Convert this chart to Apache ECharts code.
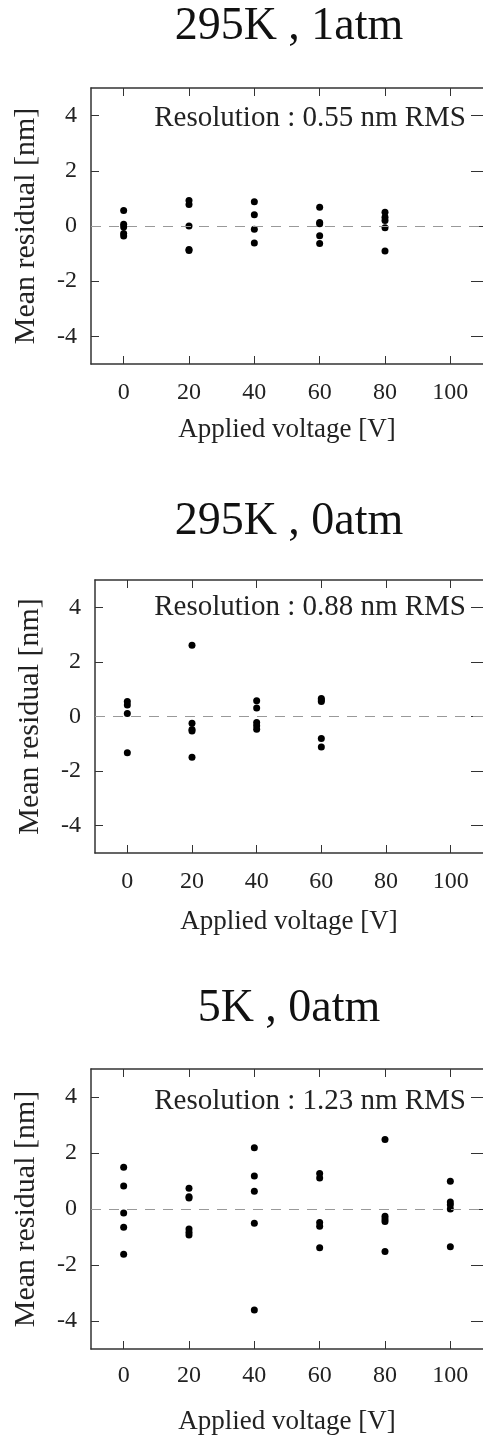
<!DOCTYPE html>
<html>
<head>
<meta charset="utf-8">
<script src="https://cdn.jsdelivr.net/npm/echarts@6/dist/echarts.min.js"></script>
<style>html,body{margin:0;padding:0;background:#fff;}#c{width:483px;height:1439px;}</style>
</head>
<body>
<div id="c"></div>
<script>
// ---- data ----
const panelTitles = ['295K , 1atm', '295K , 0atm', '5K , 0atm'];
const resolutionLabels = ['Resolution : 0.55 nm RMS', 'Resolution : 0.88 nm RMS', 'Resolution : 1.23 nm RMS'];
const xTickValues = [0, 20, 40, 60, 80, 100];
const yTickValues = [-4, -2, 0, 2, 4];
const xAxisTitle = 'Applied voltage [V]';
const yAxisTitle = 'Mean residual [nm]';

// [voltage, mean residual]
const residuals295K1atm = [
  [0, 0.56], [0, 0.06], [0, -0.04], [0, -0.27], [0, -0.36],
  [20, 0.92], [20, 0.78], [20, 0.0], [20, -0.85], [20, -0.89],
  [40, 0.88], [40, 0.41], [40, -0.12], [40, -0.62],
  [60, 0.68], [60, 0.13], [60, 0.08], [60, -0.35], [60, -0.63],
  [80, 0.50], [80, 0.32], [80, 0.20], [80, -0.06], [80, -0.91]
];
const residuals295K0atm = [
  [0, 0.55], [0, 0.42], [0, 0.11], [0, -1.33],
  [20, 2.61], [20, -0.25], [20, -0.48], [20, -0.53], [20, -1.49],
  [40, 0.58], [40, 0.31], [40, -0.22], [40, -0.34], [40, -0.47],
  [60, 0.66], [60, 0.60], [60, 0.55], [60, -0.81], [60, -1.12]
];
const residuals5K0atm = [
  [0, 1.49], [0, 0.82], [0, -0.14], [0, -0.65], [0, -1.62],
  [20, 0.74], [20, 0.44], [20, 0.39], [20, -0.71], [20, -0.83], [20, -0.93],
  [40, 2.19], [40, 1.18], [40, 0.63], [40, -0.51], [40, -3.61],
  [60, 1.27], [60, 1.11], [60, -0.48], [60, -0.62], [60, -1.38],
  [80, 2.48], [80, -0.26], [80, -0.36], [80, -0.45], [80, -1.52],
  [100, 0.99], [100, 0.25], [100, 0.15], [100, 0.0], [100, -1.35]
];
const panelData = [residuals295K1atm, residuals295K0atm, residuals5K0atm];

// ---- layout ----
const FONT = '"Liberation Serif", "Times New Roman", serif';
const grids = [
  { left: 91, top: 88, right: -4, height: 276 },
  { left: 95, top: 580, right: 0, height: 273 },
  { left: 91, top: 1069, right: -4, height: 280 }
];
const titleCenters = [27, 522, 1009];
const resCenters = [118, 607, 1101];
const labelMargins = [17, 17, 15];
const nameGaps = [52, 55, 59];

const frameLine = { show: true, onZero: false, lineStyle: { color: '#333', width: 1.5 } };
const ticks = (vals, len) => ({ show: true, inside: true, length: len || 8, customValues: vals, lineStyle: { color: '#333', width: 1 } });

const option = {
  animation: false,
  backgroundColor: '#fff',
  graphic: [],
  grid: [],
  xAxis: [],
  yAxis: [],
  series: []
};

grids.forEach((g, i) => {
  option.grid.push(Object.assign({ containLabel: false }, g));
  option.graphic.push({
    type: 'text', x: 289, y: titleCenters[i], z: 10,
    style: { text: panelTitles[i], font: '46px ' + FONT, fill: '#111', textAlign: 'center', textVerticalAlign: 'middle' }
  });
  option.graphic.push({
    type: 'text', x: 466, y: resCenters[i], z: 10,
    style: { text: resolutionLabels[i], font: '29px ' + FONT, fill: '#222', textAlign: 'right', textVerticalAlign: 'middle' }
  });
  option.xAxis.push({
    type: 'value', gridIndex: i, position: 'bottom', min: -10, max: 110,
    axisLine: frameLine, axisTick: ticks(xTickValues), splitLine: { show: false },
    axisLabel: { customValues: xTickValues, margin: labelMargins[i], fontFamily: FONT, fontSize: 24, color: '#222' },
    name: xAxisTitle, nameLocation: 'middle', nameGap: nameGaps[i],
    nameTextStyle: { fontFamily: FONT, fontSize: 27, color: '#222' }
  });
  option.xAxis.push({
    type: 'value', gridIndex: i, position: 'top', min: -10, max: 110,
    axisLine: frameLine, axisTick: ticks(xTickValues), splitLine: { show: false },
    axisLabel: { show: false }
  });
  option.yAxis.push({
    type: 'value', gridIndex: i, position: 'left', min: -5, max: 5,
    axisLine: frameLine, axisTick: ticks(yTickValues), splitLine: { show: false },
    axisLabel: { customValues: yTickValues, margin: 14, fontFamily: FONT, fontSize: 24, color: '#222' },
    name: yAxisTitle, nameLocation: 'middle', nameGap: 50,
    nameTextStyle: { fontFamily: FONT, fontSize: 30, color: '#222' }
  });
  option.yAxis.push({
    type: 'value', gridIndex: i, position: 'right', min: -5, max: 5,
    axisLine: { show: false, onZero: false }, axisTick: ticks(yTickValues, 12), splitLine: { show: false },
    axisLabel: { show: false }
  });
  option.series.push({
    type: 'scatter', xAxisIndex: i * 2, yAxisIndex: i * 2,
    data: panelData[i], symbol: 'circle', symbolSize: 7,
    itemStyle: { color: '#000', opacity: 1 },
    markLine: {
      silent: true, symbol: 'none', label: { show: false },
      lineStyle: { color: '#999', type: [10, 8], width: 1 },
      data: [{ yAxis: 0 }]
    }
  });
});

const chart = echarts.init(document.getElementById('c'), null, { renderer: 'canvas' });
chart.setOption(option);
</script>
</body>
</html>
